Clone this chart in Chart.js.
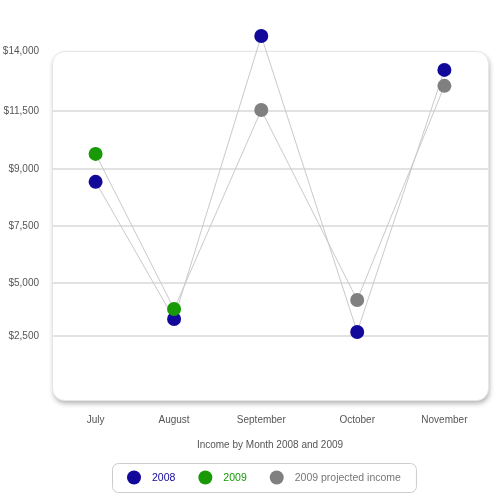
<!DOCTYPE html>
<html>
<head>
<meta charset="utf-8">
<script src="https://cdn.jsdelivr.net/npm/chart.js@4/dist/chart.umd.min.js"></script>
<style>
  html, body { margin: 0; padding: 0; background: #fff; }
  #wrap { width: 500px; height: 500px; }
</style>
</head>
<body>
<div id="wrap"><canvas id="chart" width="500" height="500"></canvas></div>
<script>
// chart data
const monthLabels = ['July', 'August', 'September', 'October', 'November'];
const monthX = [1, 2.8, 4.8, 7, 9]; // months are not evenly spaced in the original
const income2008 = [8750, 3250, 14600, 2730, 13240];
const income2009 = [9870, 3650];            // July, August actual
const projected2009 = [11630, 4010, 12600]; // September .. November projected
// grid lines sit where the original drew them, labels are what it printed
const yTickValues = [0, 2570, 4690, 6980, 9270, 11590, 14000];
const yTickLabels = ['', '$2,500', '$5,000', '$7,500', '$9,000', '$11,500', '$14,000'];
const yTop = 14000;   // top of the panel
const yMax = 15000;   // room above the panel for the September point

const FONT = 'Arial, "Liberation Sans", sans-serif';
const BLUE = '#12089a';
const GREEN = '#179a06';
const GRAY = '#808080';

const values2009 = income2009.concat(projected2009);
const colors2009 = values2009.map((_, i) => i < income2009.length ? GREEN : GRAY);

const legendItems = [
    { text: '2008', color: BLUE, textColor: BLUE },
    { text: '2009', color: GREEN, textColor: GREEN },
    { text: '2009 projected income', color: GRAY, textColor: '#777' }
];

function toPoints(values, offset) {
    return values.map((v, i) => ({ x: monthX[i + offset], y: v }));
}

function roundRectPath(ctx, x, y, w, h, r) {
    ctx.beginPath();
    ctx.moveTo(x + r, y);
    ctx.lineTo(x + w - r, y);
    ctx.arcTo(x + w, y, x + w, y + r, r);
    ctx.lineTo(x + w, y + h - r);
    ctx.arcTo(x + w, y + h, x + w - r, y + h, r);
    ctx.lineTo(x + r, y + h);
    ctx.arcTo(x, y + h, x, y + h - r, r);
    ctx.lineTo(x, y + r);
    ctx.arcTo(x, y, x + r, y, r);
    ctx.closePath();
}

// white rounded panel with a soft shadow behind the plot
const panelPlugin = {
    id: 'panel',
    beforeDraw(chart) {
        const { ctx, chartArea: a } = chart;
        const top = Math.round(chart.scales.y.getPixelForValue(yTop));
        ctx.save();
        ctx.fillStyle = '#fff';
        ctx.fillRect(0, 0, chart.width, chart.height);
        ctx.shadowColor = 'rgba(0,0,0,0.3)';
        ctx.shadowBlur = 5;
        ctx.shadowOffsetX = 1;
        ctx.shadowOffsetY = 3;
        roundRectPath(ctx, a.left + 0.5, top + 0.5, a.right - a.left, a.bottom - top, 12);
        ctx.fillStyle = '#fff';
        ctx.fill();
        ctx.shadowColor = 'transparent';
        ctx.strokeStyle = '#e6e6e6';
        ctx.lineWidth = 1;
        ctx.stroke();
        ctx.restore();
    }
};

// legend in a rounded box under the title
const boxLegendPlugin = {
    id: 'boxLegend',
    afterDraw(chart) {
        const ctx = chart.ctx;
        const r = 7, gapText = 11, gapItem = 23, pad = 15;
        ctx.save();
        ctx.font = '10.5px ' + FONT;
        const widths = legendItems.map(it => ctx.measureText(it.text).width);
        let total = 0;
        widths.forEach((w, i) => { total += 2 * r + gapText + w + (i ? gapItem : 0); });
        const boxW = total + pad * 2;
        const cx = 264, top = 463, boxH = 29;
        const left = Math.round(cx - boxW / 2);
        roundRectPath(ctx, left + 0.5, top + 0.5, boxW, boxH, 6);
        ctx.fillStyle = '#fff';
        ctx.fill();
        ctx.strokeStyle = '#cccccc';
        ctx.lineWidth = 1;
        ctx.stroke();

        let x = left + pad;
        const y = top + boxH / 2;
        legendItems.forEach((it, i) => {
            ctx.beginPath();
            ctx.arc(x + r, y, r, 0, Math.PI * 2);
            ctx.fillStyle = it.color;
            ctx.fill();
            ctx.fillStyle = it.textColor;
            ctx.textBaseline = 'middle';
            ctx.textAlign = 'left';
            ctx.fillText(it.text, x + 2 * r + gapText, y + 1);
            x += 2 * r + gapText + widths[i] + gapItem;
        });
        ctx.restore();
    }
};

new Chart(document.getElementById('chart'), {
    type: 'line',
    data: {
        datasets: [{
            label: '2008',
            data: toPoints(income2008, 0),
            borderColor: '#cacaca',
            borderWidth: 1,
            pointRadius: 7,
            pointHoverRadius: 7,
            pointBorderWidth: 0,
            pointBackgroundColor: BLUE,
            tension: 0,
            clip: false,
            order: 2
        }, {
            label: '2009',
            data: toPoints(values2009, 0),
            borderColor: '#cacaca',
            borderWidth: 1,
            pointRadius: 7,
            pointHoverRadius: 7,
            pointBorderWidth: 0,
            pointBackgroundColor: colors2009,
            tension: 0,
            clip: false,
            order: 1
        }]
    },
    options: {
        responsive: false,
        animation: false,
        events: [],
        layout: { padding: { top: 26, right: 12, bottom: 49, left: 0 } },
        plugins: {
            legend: { display: false },
            tooltip: { enabled: false },
            title: {
                display: true,
                text: 'Income by Month 2008 and 2009',
                position: 'bottom',
                fullSize: false,
                color: '#555',
                font: { family: FONT, size: 10, weight: 'normal' },
                padding: { top: 9, bottom: 0 }
            }
        },
        scales: {
            x: {
                type: 'linear',
                min: 0,
                max: 10,
                afterBuildTicks(scale) {
                    scale.ticks = monthX.map(v => ({ value: v }));
                },
                afterFit(scale) { scale.height = 30; },
                ticks: {
                    autoSkip: false,
                    maxRotation: 0,
                    padding: 14,
                    color: '#555',
                    font: { family: FONT, size: 10 },
                    callback: (v, i) => monthLabels[i]
                },
                grid: { display: false, drawTicks: false },
                border: { display: false }
            },
            y: {
                min: 0,
                max: yMax,
                afterBuildTicks(scale) {
                    scale.ticks = yTickValues.map(v => ({ value: v }));
                },
                afterFit(scale) { scale.width = 52; },
                ticks: {
                    padding: 13,
                    color: '#555',
                    font: { family: FONT, size: 10 },
                    callback: (v, i) => yTickLabels[i]
                },
                grid: {
                    drawTicks: false,
                    lineWidth: 2,
                    color: c => (c.index === 0 || c.index === yTickValues.length - 1) ? 'rgba(0,0,0,0)' : '#e2e2e2'
                },
                border: { display: false }
            }
        }
    },
    plugins: [panelPlugin, boxLegendPlugin]
});
</script>
</body>
</html>
